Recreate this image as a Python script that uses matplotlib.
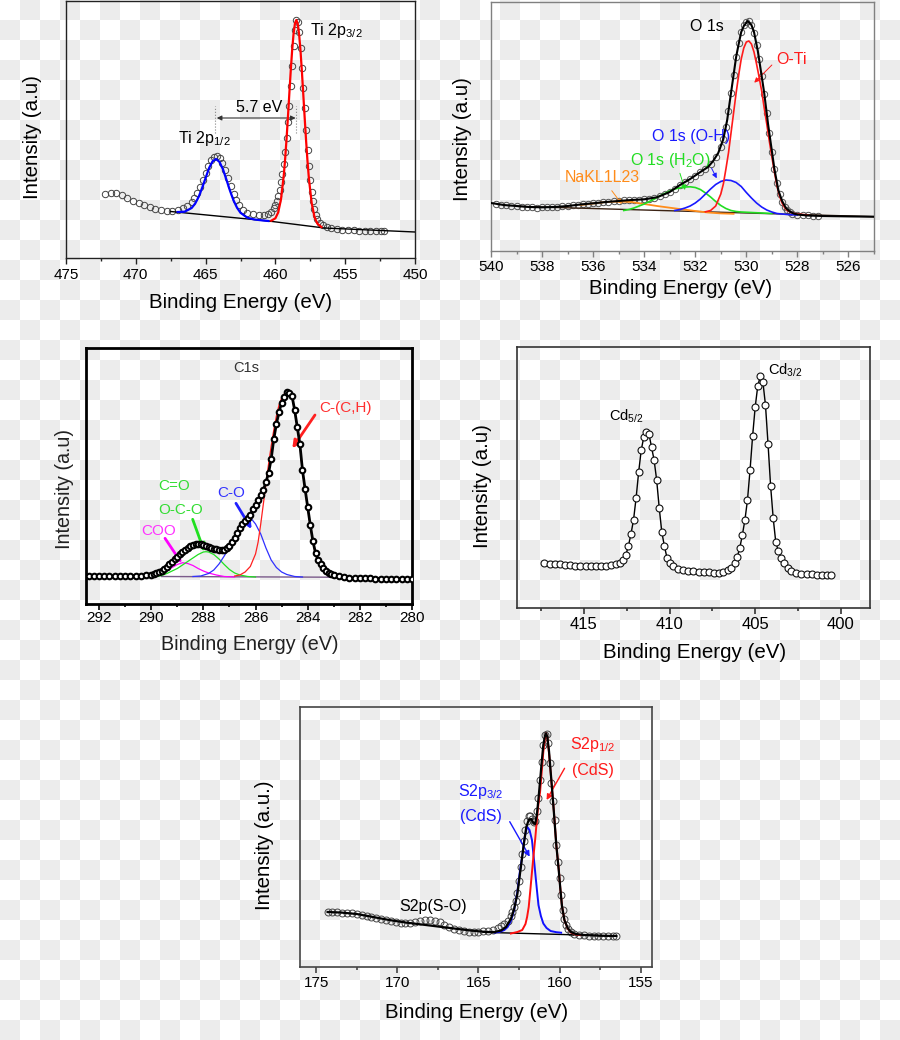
import numpy as np
import matplotlib
matplotlib.use("Agg")
import matplotlib.pyplot as plt
from matplotlib.ticker import MultipleLocator

plt.rcParams['font.family'] = ['Liberation Sans', 'DejaVu Sans']
plt.rcParams['mathtext.fontset'] = 'custom'
plt.rcParams['mathtext.rm'] = 'Liberation Sans'
plt.rcParams['mathtext.default'] = 'regular'

W, H = 900, 1040

# ---------------- Ti 2p ----------------
ti_e = [472.2, 471.8, 471.4, 471.0, 470.6, 470.2, 469.8, 469.4, 469.0, 468.6, 468.2, 467.8, 467.4, 467.0, 466.6,
        466.3, 466.0, 465.8, 465.6, 465.4, 465.2, 465.0, 464.8, 464.6, 464.4, 464.2, 464.0, 463.8, 463.6, 463.4,
        463.2, 463.0, 462.8, 462.6, 462.3, 462.0, 461.6, 461.2, 460.8, 460.5, 460.3, 460.1, 460.0, 459.9, 459.8,
        459.7, 459.6, 459.5, 459.4, 459.3, 459.2, 459.1, 459.0, 458.9, 458.8, 458.7, 458.6, 458.5, 458.4, 458.3,
        458.2, 458.1, 458.0, 457.9, 457.8, 457.7, 457.6, 457.5, 457.4, 457.3, 457.2, 457.1, 457.0, 456.8, 456.6,
        456.3, 456.0, 455.6, 455.2, 454.8, 454.4, 454.0, 453.6, 453.2, 452.8, 452.4, 452.2]
ti_i = [64, 65.5, 65, 63, 60, 57, 55, 53, 51, 49.5, 48.5, 47.5, 47.5, 48.5, 50,
        52.5, 56, 60, 65, 71, 78, 85, 92, 98, 101, 102, 100, 95, 88, 80,
        72, 64, 58, 53, 48, 45.5, 44, 43.5, 43, 44, 46, 50, 53, 57, 62,
        68, 76, 84, 94, 106, 120, 136, 152, 172, 192, 212, 228, 238, 236, 226,
        210, 190, 170, 150, 128, 108, 92, 78, 66, 57, 49, 43, 39, 35, 33,
        31, 30, 29, 28.5, 28, 28, 27.5, 27.5, 27, 27, 27, 27]
ti_half_e = [467.0, 466.5, 466.0, 465.75, 465.5, 465.25, 465.0, 464.75, 464.5, 464.25, 464.0, 463.75, 463.5,
             463.25, 463.0, 462.75, 462.5, 462.0, 461.5, 461.0, 460.5]
ti_half_i = [46, 46.3, 50, 54.4, 61, 70, 80, 90, 96.7, 99, 96, 88.5, 78, 67.2, 57.6, 50.3, 45.2, 40.2, 38.5, 37.7, 37]
ti_3half_e = [460.3, 460.0, 459.8, 459.6, 459.4, 459.3, 459.2, 459.1, 459.0, 458.9, 458.8, 458.7, 458.6, 458.5,
              458.4, 458.3, 458.2, 458.1, 458.0, 457.9, 457.8, 457.7, 457.6, 457.4, 457.2, 457.0, 456.7]
ti_3half_i = [37.3, 39.7, 45.6, 58.6, 82.7, 99.5, 119.4, 141.5, 164.8, 187.5, 207.9, 224.1, 234.5, 238,
              234.1, 223.4, 206.9, 186.1, 163, 139.5, 117, 96.7, 79.5, 54.8, 41, 34.5, 30.9]
ti_bg_e = [467.5, 460.5, 456.5, 450.0]
ti_bg_i = [46.5, 37, 30, 26]
ti_peaks = [464.3, 458.55]

# ---------------- O 1s ----------------
o_e = [539.8, 539.6, 539.4, 539.2, 539.0, 538.8, 538.6, 538.4, 538.2, 538.0, 537.8, 537.6, 537.4, 537.2, 537.0,
       536.8, 536.6, 536.4, 536.2, 536.0, 535.8, 535.6, 535.4, 535.2, 535.0, 534.8, 534.6, 534.4, 534.2, 534.0,
       533.8, 533.6, 533.4, 533.2, 533.0, 532.8, 532.6, 532.4, 532.2, 532.0, 531.8, 531.6, 531.4, 531.2, 531.0,
       530.9, 530.8, 530.7, 530.6, 530.5, 530.4, 530.3, 530.2, 530.1, 530.0, 529.9, 529.8, 529.7, 529.6, 529.5,
       529.4, 529.3, 529.2, 529.1, 529.0, 528.9, 528.8, 528.7, 528.6, 528.5, 528.4, 528.3, 528.2,
       528.0, 527.8, 527.6, 527.4, 527.2]
o_i = [47.5, 46.5, 46, 45.5, 45, 44.5, 44, 44, 43.5, 44, 44, 44.5, 44.5, 45, 45.5,
       46, 46.5, 47, 47.5, 48, 48.5, 49, 49.5, 50, 50.5, 51, 51, 51.5, 51.5, 52,
       52.5, 53.5, 55, 57, 59.5, 62.5, 66.5, 69.5, 72.5, 75.5, 79, 82.5, 87, 94, 104,
       112, 124, 140, 158, 176, 194, 208, 219, 226, 229, 230, 226, 218, 206, 192,
       175, 157, 138, 118, 99, 82, 68, 57, 49, 44, 41, 39, 37.5,
       36.5, 36, 36, 35.5, 35.5]
o_fit_e = [540.0, 539.5, 539.0, 538.5, 538.0, 537.5, 537.0, 536.5, 536.0, 535.5, 535.0, 534.5, 534.0, 533.5, 533.0,
           532.6, 532.2, 531.8, 531.5, 531.3, 531.1, 530.9, 530.75, 530.6, 530.5, 530.4, 530.3, 530.2, 530.1,
           529.95, 529.8, 529.7, 529.55, 529.4, 529.3, 529.15, 529.0, 528.9, 528.75, 528.6, 528.45, 528.3,
           528.15, 528.0, 527.6, 527.0, 526.0, 525.0]
o_fit_i = [48, 46, 45, 44, 43.7, 44, 45, 46.5, 47.7, 49, 50, 51, 51.7, 53.7, 59,
           66, 72, 79, 84, 90, 98, 112, 131, 158, 176, 194, 207, 219, 225,
           230, 226, 219, 200, 175, 158, 127, 100, 82, 61, 50, 43, 39.5,
           37.5, 36.5, 35.5, 35, 34.6, 34.3]
o_ti_e = [531.6, 531.4, 531.2, 531.0, 530.9, 530.8, 530.7, 530.6, 530.5, 530.4, 530.3, 530.2, 530.1, 530.0, 529.9,
          529.8, 529.7, 529.6, 529.5, 529.4, 529.3, 529.2, 529.1, 529.0, 528.9, 528.8, 528.7, 528.6, 528.5, 528.4,
          528.2, 528.0, 527.6]
o_ti_i = [39.2, 40.5, 45, 57, 67, 82, 98, 118, 138, 158, 176, 192, 203, 209, 210,
          207, 199, 187, 174, 160, 143, 127, 110, 94, 79, 65, 55, 48, 43.5, 40.5,
          38, 37, 36]
o_oh_e = [532.8, 532.6, 532.4, 532.2, 532.0, 531.8, 531.6, 531.4, 531.2, 531.0, 530.8, 530.6, 530.4, 530.2, 530.0,
          529.8, 529.6, 529.4, 529.2, 529.0, 528.8, 528.4, 528.0]
o_oh_i = [40.5, 41.5, 43, 45, 48, 52, 57, 62, 66.5, 69.5, 71, 70.5, 68.5, 64.5, 58.5,
          53, 48, 44, 41, 39, 37.5, 36.5, 36]
o_h2o_e = [534.8, 534.6, 534.4, 534.2, 534.0, 533.8, 533.6, 533.4, 533.2, 533.0, 532.8, 532.6, 532.4, 532.2, 532.0,
           531.8, 531.6, 531.4, 531.2, 531.0, 530.8, 530.6, 530.4, 530.2, 529.8, 529.4, 529.0]
o_h2o_i = [40.5, 41.5, 43, 45, 47, 49.5, 52, 55, 57.5, 60, 62, 63.2, 64, 64.2, 63.5,
           61.5, 58, 54, 49.5, 45.5, 42.5, 40.5, 39.5, 39, 38.5, 38, 37.5]
o_na_e = [536.5, 536.0, 535.5, 535.0, 534.5, 534.0, 533.5, 533.0, 532.5, 532.0, 531.5, 531.0, 530.5]
o_na_i = [46, 47.5, 49, 49.5, 49, 47, 45, 43.3, 41.6, 40, 38.5, 37.6, 37.2]
o_bg_e = [539.0, 525.0]
o_bg_i = [44.7, 34.3]

# ---------------- C 1s ----------------
c_e = [292.4, 292.2, 292.0, 291.8, 291.6, 291.4, 291.2, 291.0, 290.8, 290.6, 290.4, 290.2,
       290.0, 289.9, 289.8, 289.7, 289.6, 289.5, 289.4, 289.3, 289.2, 289.1,
       289.0, 288.9, 288.8, 288.7, 288.6, 288.5, 288.4, 288.3, 288.2, 288.1,
       288.0, 287.9, 287.8, 287.7, 287.6, 287.5, 287.4, 287.3, 287.2, 287.1,
       287.0, 286.9, 286.8, 286.7, 286.6, 286.5, 286.4, 286.3, 286.2, 286.1,
       286.0, 285.9, 285.8, 285.7, 285.6, 285.5, 285.4, 285.3, 285.2, 285.1,
       285.0, 284.9, 284.8, 284.7, 284.6, 284.5, 284.4, 284.3, 284.2, 284.1,
       284.0, 283.9, 283.8, 283.7, 283.6, 283.5, 283.4, 283.3, 283.2, 283.1,
       283.0, 282.8, 282.6, 282.4, 282.2, 282.0, 281.8, 281.6, 281.4, 281.2, 281.0, 280.8, 280.6, 280.4,
       280.2, 280.0]
c_i = [28, 28, 28.2, 28, 28, 28, 28, 28, 28.2, 28.3, 28.5, 28.8,
       29.3, 30, 31, 32, 33.5, 35.5, 37.5, 40, 42.5, 45,
       47.5, 50, 52.5, 54.5, 56.5, 58, 59, 59.8, 60, 60,
       59.5, 58.5, 57.5, 56.5, 55.5, 54.8, 54.2, 54, 54.5, 56,
       58.5, 62, 66, 71, 76, 80, 83, 86, 89, 95,
       99, 104, 109, 114, 122, 131, 145, 165, 180, 192,
       201, 207, 212, 211, 208, 194, 177, 160, 134, 115,
       97, 79, 63, 51, 44, 40, 36, 33.5, 31.5, 30,
       29, 28, 27, 26.5, 26, 26, 25.8, 26, 25.5, 25.5, 25.3, 25.5, 25, 25,
       25, 24.7]
c_cc_e = [286.8, 286.6, 286.4, 286.2, 286.0, 285.9, 285.8, 285.7, 285.6, 285.5, 285.4, 285.3, 285.2, 285.1,
          285.0, 284.9, 284.8, 284.7, 284.6, 284.5, 284.4, 284.3, 284.2, 284.1, 284.0, 283.9, 283.8, 283.7,
          283.6, 283.5, 283.4, 283.2, 283.0, 282.8]
c_cc_i = [28, 29, 32, 37.5, 50, 62, 80, 100, 120, 140, 158, 174, 188, 199,
          206, 210, 212, 211, 207, 194, 177, 159, 133, 114, 96, 78, 62, 50,
          42, 37, 33, 29.5, 28, 27]
c_co_e = [288.4, 288.1, 287.8, 287.6, 287.4, 287.2, 287.0, 286.8, 286.6, 286.4, 286.3, 286.2, 286.0, 285.8,
          285.6, 285.4, 285.2, 285.0, 284.8, 284.5, 284.2]
c_co_i = [27.5, 28, 30.5, 34, 40, 48, 57, 68, 78.5, 86, 87.3, 86.5, 80, 70, 56, 44, 36.5, 32, 29.5, 27.5, 27]
c_cdo_e = [289.8, 289.6, 289.4, 289.2, 289.0, 288.8, 288.6, 288.4, 288.2, 288.0, 287.9, 287.8, 287.6, 287.4,
           287.2, 287.0, 286.8, 286.6, 286.3, 286.0]
c_cdo_i = [27.5, 28.5, 30.5, 33, 35.5, 39, 42.5, 46, 49.5, 52, 52.3, 52, 49.5, 45, 39.5, 34.5, 31, 29, 27.5, 27]
c_coo_e = [290.0, 289.8, 289.6, 289.4, 289.2, 289.0, 288.8, 288.6, 288.4, 288.2, 288.0, 287.8, 287.5, 287.2, 286.8]
c_coo_i = [27.5, 28.5, 30.5, 33, 36.5, 39.5, 41.3, 40.5, 38.5, 35.5, 33, 31, 29, 27.5, 27]
c_bg_e = [289.6, 283.1]
c_bg_i = [27.5, 26.8]

# ---------------- Cd 3d ----------------
cd_e = [417.3, 417.0, 416.7, 416.4, 416.1, 415.8, 415.5, 415.2, 414.9, 414.6, 414.3, 414.0, 413.7, 413.4, 413.1,
        412.9, 412.7, 412.55, 412.4, 412.25, 412.1, 411.95, 411.8, 411.65, 411.5, 411.35, 411.2, 411.05,
        410.9, 410.75, 410.6, 410.45, 410.3, 410.15, 410.0, 409.8, 409.5, 409.2, 408.9, 408.6, 408.3, 408.0,
        407.7, 407.4, 407.1, 406.85, 406.6, 406.4, 406.2, 406.05, 405.9, 405.75, 405.6, 405.45, 405.3, 405.15,
        405.0, 404.85, 404.7, 404.55, 404.4, 404.25, 404.1, 403.95, 403.8, 403.65, 403.5, 403.3, 403.1, 402.9,
        402.6, 402.3, 402.0, 401.7, 401.4, 401.1, 400.8, 400.6]
cd_i = [44.7, 44.3, 44, 43.7, 43.2, 42.8, 42.5, 42.2, 42, 42, 42, 42, 42.2, 42.8, 43.7,
        45.5, 48, 53, 62, 74, 88, 110, 136, 158, 171, 176, 174, 161,
        148, 128, 100, 76, 62, 50.5, 45, 42, 39.5, 38.5, 37.5, 37, 36.5, 36,
        35.7, 35.5, 35.3, 36, 38, 40.5, 45, 51, 60, 73, 88, 108, 138, 172,
        201, 222, 232, 226, 203, 164, 122, 90, 66, 57, 50, 45, 40, 37.5,
        35.5, 34.5, 34, 33.7, 33.5, 33.2, 33, 33]

# ---------------- S 2p ----------------
s_e = [174.3, 174.0, 173.7, 173.4, 173.1, 172.8, 172.5, 172.2, 171.9, 171.6, 171.3, 171.0, 170.7, 170.4, 170.1,
       169.8, 169.5, 169.2, 168.9, 168.6, 168.3, 168.0, 167.7, 167.4, 167.1, 166.8, 166.5, 166.2, 165.9, 165.6,
       165.3, 165.0, 164.7, 164.4, 164.1, 163.8, 163.6, 163.4, 163.2,
       163.0, 162.9, 162.8, 162.7, 162.6, 162.5, 162.4, 162.3, 162.2, 162.1,
       162.0, 161.9, 161.8, 161.7, 161.6, 161.5, 161.4, 161.3, 161.2, 161.1,
       161.0, 160.9, 160.8, 160.7, 160.6, 160.5, 160.4, 160.3, 160.2, 160.1,
       160.0, 159.9, 159.8, 159.7, 159.6, 159.5,
       159.3, 159.1, 158.8, 158.5, 158.2, 157.9, 157.6, 157.3, 157.0, 156.7, 156.5]
s_i = [55.3, 55, 54.8, 54.5, 54.5, 54, 53, 52.5, 51.5, 50.5, 49.5, 48, 47, 46, 45,
       44, 44, 44.5, 45.5, 46.5, 47, 47.5, 46.5, 45, 42.5, 40, 38.5, 37, 36, 35.5,
       35.5, 35.5, 36, 36.5, 37.5, 39, 41, 43.5, 46.5,
       51.5, 55, 60, 66, 74, 86, 100, 113, 126, 137,
       146, 151, 151.5, 148, 145, 146.5, 156, 169, 187, 205,
       222, 232, 233.5, 224, 204, 184, 166, 147, 122, 105,
       89, 72, 57, 48, 42, 38.5,
       35, 33.5, 32.5, 32, 31.5, 31.5, 31.3, 31, 31, 31, 31]
s_fit_e = [174.3, 173.5, 172.5, 171.5, 170.5, 169.5, 168.5, 167.5, 166.5, 165.5, 164.5, 164.0, 163.6, 163.3, 163.0,
           162.8, 162.6, 162.4, 162.2, 162.05, 161.9, 161.75, 161.6, 161.5, 161.4, 161.3, 161.2, 161.1, 161.0,
           160.9, 160.83, 160.75, 160.65, 160.5, 160.35, 160.2, 160.05, 159.95, 159.85, 159.7, 159.5, 159.3,
           159.0, 158.5, 157.5, 156.5]
s_fit_i = [55, 54.5, 53, 50, 47, 44.5, 42.5, 40.5, 38.5, 36.5, 35, 35, 36.5, 40, 48,
           58, 73, 98, 123, 140, 147, 148, 144, 143, 152, 168, 186, 205, 222,
           231, 233.7, 230, 216, 186, 155, 122, 97, 78, 61, 47, 39, 35,
           33, 32, 31.3, 31]
s_half_e = [163.0, 162.6, 162.3, 162.1, 162.0, 161.9, 161.8, 161.7, 161.6, 161.5, 161.4, 161.3, 161.2, 161.1, 161.0,
            160.9, 160.83, 160.75, 160.65, 160.5, 160.35, 160.2, 160.05, 159.95, 159.85, 159.7, 159.5, 159.3,
            159.0, 158.7]
s_half_i = [33.5, 35, 37, 43, 50, 60, 77, 95, 112, 128, 147, 163, 175, 195, 215,
            229, 233.7, 229, 214, 185, 156, 122, 98, 78, 61, 47, 38.5, 34.5, 32.5, 32]
s_3half_e = [164.0, 163.7, 163.4, 163.2, 163.0, 162.8, 162.6, 162.45, 162.3, 162.15, 162.0, 161.85, 161.7, 161.55,
             161.4, 161.3, 161.15, 161.0, 160.8, 160.55, 160.2, 159.9]
s_3half_i = [34.5, 35, 37, 40, 46, 57, 75, 95, 111, 130, 140.3, 137, 127, 103, 78, 62, 51, 43.5, 39, 36, 34.8, 34.3]
s_bg_e = [164.7, 156.5]
s_bg_i = [34.7, 31]


fig = plt.figure(figsize=(W / 100, H / 100), dpi=100)

# transparent-png style checker behind everything
rows = np.arange(H) // 20
cols = np.arange(W) // 20
checker = np.where((rows[:, None] + cols[None, :]) % 2 == 1, 236, 255)
bg = fig.add_axes([0, 0, 1, 1], zorder=-5)
bg.imshow(checker, cmap='gray', vmin=0, vmax=255, interpolation='nearest', aspect='auto')
bg.axis('off')


def panel(box, xlim, major, minor, color='#222222', lw=1.0, tsize=11, pad=3.4):
    left, top, right, bottom = box
    ax = fig.add_axes([left / W, 1 - bottom / H, (right - left) / W, (bottom - top) / H])
    ax.set_facecolor('none')
    ax.set_xlim(*xlim)
    ax.set_ylim(0, bottom - top)
    ax.set_yticks([])
    ax.xaxis.set_major_locator(MultipleLocator(major))
    ax.xaxis.set_minor_locator(MultipleLocator(minor))
    ax.tick_params(axis='x', which='both', direction='out', color=color, labelsize=tsize, pad=pad, top=False)
    ax.tick_params(axis='x', which='major', length=4, width=lw)
    ax.tick_params(axis='x', which='minor', length=2.5, width=lw)
    for s in ax.spines.values():
        s.set_color(color)
        s.set_linewidth(lw)
    return ax


def labels(ax, box, ylab, xc, yc, size=14.8, color='black'):
    left, top, right, bottom = box
    w, h = right - left, bottom - top
    ax.set_xlabel('Binding Energy (eV)', fontsize=size, color=color, va='center', ha='center')
    ax.xaxis.set_label_coords((xc[0] - left) / w, (bottom - xc[1]) / h)
    ax.set_ylabel(ylab, fontsize=size, color=color, va='center', ha='center')
    ax.yaxis.set_label_coords((yc[0] - left) / w, (bottom - yc[1]) / h)


def arrow(ax, tail, head, color, lw=0.9, ms=8):
    ax.annotate('', xy=head, xytext=tail,
                arrowprops=dict(arrowstyle='-|>', color=color, lw=lw, mutation_scale=ms,
                                shrinkA=0, shrinkB=0))


# ---- Ti 2p ----
box1 = (66, 1, 415, 258)
ax1 = panel(box1, (475, 450), 5, 2.5)
ax1.plot(ti_e, ti_i, ls='none', marker='o', ms=4.6, mfc='none', mec='#444444', mew=0.7, zorder=2)
ax1.plot(ti_bg_e, ti_bg_i, color='black', lw=1.0, zorder=3)
ax1.plot(ti_half_e, ti_half_i, color='#0000ff', lw=1.6, zorder=4)
ax1.plot(ti_3half_e, ti_3half_i, color='#ff0000', lw=1.6, zorder=4)
for p in ti_peaks:
    ax1.plot([p, p], [125, 152], ls=':', color='#888888', lw=0.8)
ax1.annotate('', xy=(ti_peaks[1], 140), xytext=(ti_peaks[0] - 0.1, 140),
             arrowprops=dict(arrowstyle='<|-|>', color='#333333', lw=0.8, mutation_scale=7,
                             shrinkA=0, shrinkB=0))
ax1.text(461.17, 151, '5.7 eV', fontsize=11.5, ha='center', va='center')
ax1.text(466.98, 120, 'Ti 2p$_{1/2}$', fontsize=11.5, ha='left', va='center')
ax1.text(457.52, 228, 'Ti 2p$_{3/2}$', fontsize=11.5, ha='left', va='center')
labels(ax1, box1, 'Intensity (a.u)', (241, 303), (32, 137))

# ---- O 1s ----
box2 = (491, 2, 874, 251)
ax2 = panel(box2, (540, 525), 2, 1, color='#808080', pad=2.7)
ax2.plot(o_e, o_i, ls='none', marker='o', ms=4.6, mfc='none', mec='#555555', mew=0.7, zorder=2)
ax2.plot(o_bg_e, o_bg_i, color='#3b2314', lw=1.0, zorder=3)
ax2.plot(o_na_e, o_na_i, color='#ff8c1a', lw=1.3, zorder=3)
ax2.plot(o_h2o_e, o_h2o_i, color='#22dd22', lw=1.2, zorder=3)
ax2.plot(o_oh_e, o_oh_i, color='#1a1aff', lw=1.2, zorder=3)
ax2.plot(o_ti_e, o_ti_i, color='#ff1a1a', lw=1.2, zorder=3)
ax2.plot(o_fit_e, o_fit_i, color='black', lw=1.5, zorder=4)
ax2.text(532.2, 224.3, 'O 1s', fontsize=11.5, ha='left', va='center')
ax2.text(528.84, 191, 'O-Ti', fontsize=11.5, color='#ff1a1a', ha='left', va='center')
ax2.text(533.7, 114.3, 'O 1s (O-H)', fontsize=11.5, color='#1a1aff', ha='left', va='center')
ax2.text(534.56, 90.3, 'O 1s (H$_2$O)', fontsize=11.5, color='#22dd22', ha='left', va='center')
ax2.text(537.1, 73.7, 'NaKL1L23', fontsize=11.5, color='#ff8c1a', ha='left', va='center')
arrow(ax2, (529.0, 186), (529.69, 168.3), '#ff1a1a', lw=0.7, ms=7)
arrow(ax2, (531.36, 82.7), (531.16, 72.7), '#1a1aff', lw=0.7, ms=7)
arrow(ax2, (532.6, 77.7), (532.4, 61), '#22dd22', lw=0.7, ms=7)
arrow(ax2, (535.27, 60.3), (534.88, 47), '#ff8c1a', lw=0.7, ms=7)
labels(ax2, box2, 'Intensity (a.u)', (681, 288), (463, 139))

# ---- C 1s ----
box3 = (86, 348, 412, 604)
ax3 = panel(box3, (292.5, 280), 2, 1, color='black', lw=2.0, pad=1.2)
ax3.tick_params(axis='x', which='both', width=1.2)
ax3.plot(c_bg_e, c_bg_i, color='#7a5a8a', lw=1.0, zorder=2)
ax3.plot(c_coo_e, c_coo_i, color='#ff00ff', lw=0.9, zorder=3)
ax3.plot(c_cdo_e, c_cdo_i, color='#20e020', lw=0.9, zorder=3)
ax3.plot(c_co_e, c_co_i, color='#3030ff', lw=0.9, zorder=3)
ax3.plot(c_cc_e, c_cc_i, color='#ff2020', lw=0.9, zorder=3)
ax3.plot(c_e, c_i, color='black', lw=2.0, marker='o', ms=4, mfc='white', mec='black', mew=1.5, zorder=5)
ax3.text(286.34, 236.3, 'C1s', fontsize=10.5, color='#333333', ha='center', va='center')
ax3.text(283.57, 195.7, 'C-(C,H)', fontsize=11, color='#ff3030', ha='left', va='center')
ax3.text(286.94, 110.7, 'C-O', fontsize=11, color='#3333ff', ha='center', va='center')
ax3.text(289.13, 118, 'C=O', fontsize=11, color='#33dd33', ha='center', va='center')
ax3.text(288.87, 94, 'O-C-O', fontsize=11, color='#33dd33', ha='center', va='center')
ax3.text(289.73, 73, 'COO', fontsize=11, color='#ff33ff', ha='center', va='center')
arrow(ax3, (283.72, 189), (284.59, 155.7), '#ff2020', lw=2.0, ms=11)
arrow(ax3, (286.75, 100.7), (286.15, 75), '#2020ff', lw=2.0, ms=11)
arrow(ax3, (288.41, 84.7), (287.96, 52.3), '#20e020', lw=2.0, ms=11)
arrow(ax3, (289.47, 65.7), (288.83, 40.7), '#ff00ff', lw=2.0, ms=11)
labels(ax3, box3, 'Intensity (a.u)', (249.5, 645), (65, 489), size=14.2, color='#222222')

# ---- Cd 3d ----
box4 = (517, 347, 870, 608)
ax4 = panel(box4, (418.9, 398.3), 5, 2.5, color='#333333', lw=1.2, tsize=12, pad=2.8)
ax4.plot(cd_e, cd_i, color='black', lw=1.0, marker='o', ms=5, mfc='white', mec='#111111', mew=0.8)
ax4.text(413.55, 192, 'Cd$_{5/2}$', fontsize=10.5, ha='left', va='center')
ax4.text(404.28, 237.3, 'Cd$_{3/2}$', fontsize=10.5, ha='left', va='center')
labels(ax4, box4, 'Intensity (a.u)', (695, 653), (483, 486.5))

# ---- S 2p ----
box5 = (300, 707, 652, 967)
ax5 = panel(box5, (176, 154.3), 5, 2.5, color='#444444', lw=1.2, pad=2.7)
ax5.plot(s_e, s_i, ls='none', marker='o', ms=5, mfc='none', mec='#444444', mew=0.7, zorder=2)
ax5.plot(s_bg_e, s_bg_i, color='black', lw=1.0, zorder=3)
ax5.plot(s_3half_e, s_3half_i, color='#1010ff', lw=1.4, zorder=3)
ax5.plot(s_half_e, s_half_i, color='#ff1010', lw=1.4, zorder=3)
ax5.plot(s_fit_e, s_fit_i, color='black', lw=1.6, zorder=4)
ax5.text(167.81, 60.3, 'S2p(S-O)', fontsize=11.5, ha='center', va='center')
ax5.text(164.88, 175.3, 'S2p$_{3/2}$', fontsize=11.5, color='#1a1aff', ha='center', va='center')
ax5.text(164.83, 150.3, '(CdS)', fontsize=11.5, color='#1a1aff', ha='center', va='center')
ax5.text(157.96, 222, 'S2p$_{1/2}$', fontsize=11.5, color='#ff1a1a', ha='center', va='center')
ax5.text(157.94, 196.3, '(CdS)', fontsize=11.5, color='#ff1a1a', ha='center', va='center')
arrow(ax5, (163.07, 145.3), (161.84, 110.3), '#1a1aff', lw=1.0, ms=8)
arrow(ax5, (159.69, 198.7), (160.8, 167), '#ff1a1a', lw=1.0, ms=8)
labels(ax5, box5, 'Intensity (a.u.)', (476.5, 1013), (265, 845))

fig.savefig('out.png', dpi=100)
